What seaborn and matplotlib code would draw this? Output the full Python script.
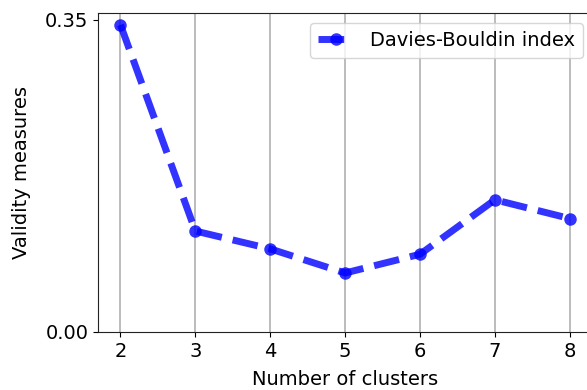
import matplotlib
matplotlib.use("Agg")
import matplotlib.pyplot as plt
import pandas as pd
import seaborn as sns

# nombre de clusters et indice de Davies-Bouldin
n_clusters = [2, 3, 4, 5, 6, 7, 8]
db_index = [0.344, 0.113, 0.093, 0.066, 0.087, 0.148, 0.127]

df = pd.DataFrame({"k": n_clusters, "db": db_index})

sns.set_style("ticks")
plt.rcParams["font.family"] = ["DejaVu Sans"]
plt.rcParams["text.color"] = "black"
plt.rcParams["axes.labelcolor"] = "black"

fig = plt.figure(figsize=(5.87, 3.9), dpi=100)
ax = fig.add_axes([0.167, 0.149, 0.842, 0.817])

sns.lineplot(data=df, x="k", y="db", ax=ax, color="blue", alpha=0.8,
             linestyle="--", linewidth=5, marker="o", markersize=9,
             markeredgewidth=0, label="Davies-Bouldin index")

ax.set_xlim(1.7, 8.3)
ax.set_ylim(0, 0.357)
ax.set_yticks([0.0, 0.35])
ax.set_yticklabels(["0.00", "0.35"])
ax.set_xticks(n_clusters)
ax.tick_params(labelsize=14, colors="black")
ax.grid(axis="x", color="#b0b0b0", linewidth=1.2)
ax.set_xlabel("Number of clusters", fontsize=14, labelpad=7)
ax.set_ylabel("Validity measures", fontsize=14, labelpad=10)
for s in ax.spines.values():
    s.set_color("#222222")
ax.legend(loc="upper right", fontsize=14, handlelength=1.85)

fig.savefig("out.png", dpi=100)
